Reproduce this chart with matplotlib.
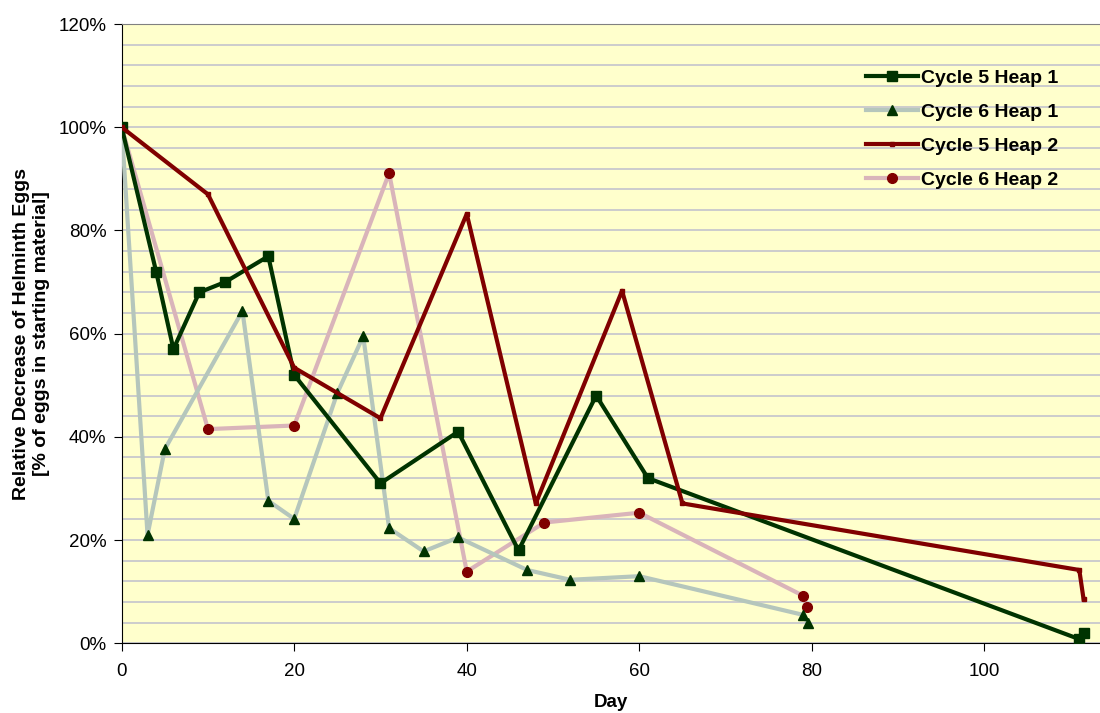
import matplotlib.pyplot as plt
from matplotlib.ticker import FuncFormatter, MultipleLocator

plt.rcParams['font.family'] = ['Liberation Sans', 'DejaVu Sans']

# Cycle 5 Heap 1
c5h1_day = [0, 4, 6, 9, 12, 17, 20, 30, 39, 46, 55, 61, 111, 111.5]
c5h1_pct = [100, 72, 57, 68, 70, 75, 52, 31, 41, 18, 48, 32, 0.8, 2]

# Cycle 6 Heap 1
c6h1_day = [0, 3, 5, 14, 17, 20, 25, 28, 31, 35, 39, 47, 52, 60, 79, 79.5]
c6h1_pct = [100, 21, 37.6, 64.4, 27.6, 24.1, 48.5, 59.5, 22.3, 17.8, 20.5, 14.2, 12.3, 13, 5.5, 4]

# Cycle 5 Heap 2
c5h2_day = [0, 10, 20, 30, 40, 48, 58, 65, 111, 111.5]
c5h2_pct = [100, 87, 53.4, 43.6, 83.2, 27.1, 68.3, 27.1, 14.2, 8.5]

# Cycle 6 Heap 2
c6h2_day = [0, 10, 20, 31, 40, 49, 60, 79, 79.4]
c6h2_pct = [100, 41.5, 42.2, 91.1, 13.9, 23.4, 25.3, 9.2, 7.1]

dark_green = '#003300'
gray_green = '#B5C6BC'
dark_red = '#800000'
pink = '#D9B4BA'

fig = plt.figure(figsize=(11, 7.13), dpi=100)
ax = fig.add_axes([0.1106, 0.0978, 0.8894, 0.8685])
ax.set_facecolor('#FFFFCC')

ax.plot(c5h1_day, c5h1_pct, color=dark_green, lw=3, marker='s', ms=7,
        label='Cycle 5 Heap 1', zorder=4)
ax.plot(c6h1_day, c6h1_pct, color=gray_green, lw=3, marker='^', ms=7,
        mfc=dark_green, mec=dark_green, label='Cycle 6 Heap 1', zorder=3)
ax.plot(c5h2_day, c5h2_pct, color=dark_red, lw=3, marker='s', ms=3,
        label='Cycle 5 Heap 2', zorder=5)
ax.plot(c6h2_day, c6h2_pct, color=pink, lw=3, marker='o', ms=7,
        mfc=dark_red, mec=dark_red, label='Cycle 6 Heap 2', zorder=2)

ax.set_xlim(0, 113.4)
ax.set_ylim(0, 120)
ax.xaxis.set_major_locator(MultipleLocator(20))
ax.yaxis.set_major_locator(MultipleLocator(20))
ax.yaxis.set_minor_locator(MultipleLocator(4))
ax.yaxis.set_major_formatter(FuncFormatter(lambda v, p: f'{v:.0f}%'))
ax.grid(axis='y', which='both', color='#BEBECC', lw=1.1, zorder=0)
ax.set_axisbelow(True)

ax.spines['right'].set_visible(False)
ax.spines['top'].set_color('#808080')
ax.spines['left'].set_color('black')
ax.spines['bottom'].set_color('black')
ax.tick_params(axis='both', which='major', direction='out', length=6,
               color='black')
ax.tick_params(axis='y', which='major', labelsize=13.5, pad=5)
ax.tick_params(axis='y', which='minor', length=0)
ax.tick_params(axis='x', labelsize=13.5, pad=8)

ax.set_xlabel('Day', fontsize=13.5, fontweight='bold', labelpad=10)
ax.set_ylabel('Relative Decrease of Helminth Eggs\n[% of eggs in starting material]',
              fontsize=14, fontweight='bold', labelpad=6)

fig.legend(loc='upper left', bbox_to_anchor=(0.787, 0.903), frameon=False,
           prop={'size': 14, 'weight': 'bold'}, handlelength=2.7,
           handletextpad=0.15, labelspacing=0.85, borderpad=0,
           borderaxespad=0)

fig.savefig('out.png', dpi=100)
